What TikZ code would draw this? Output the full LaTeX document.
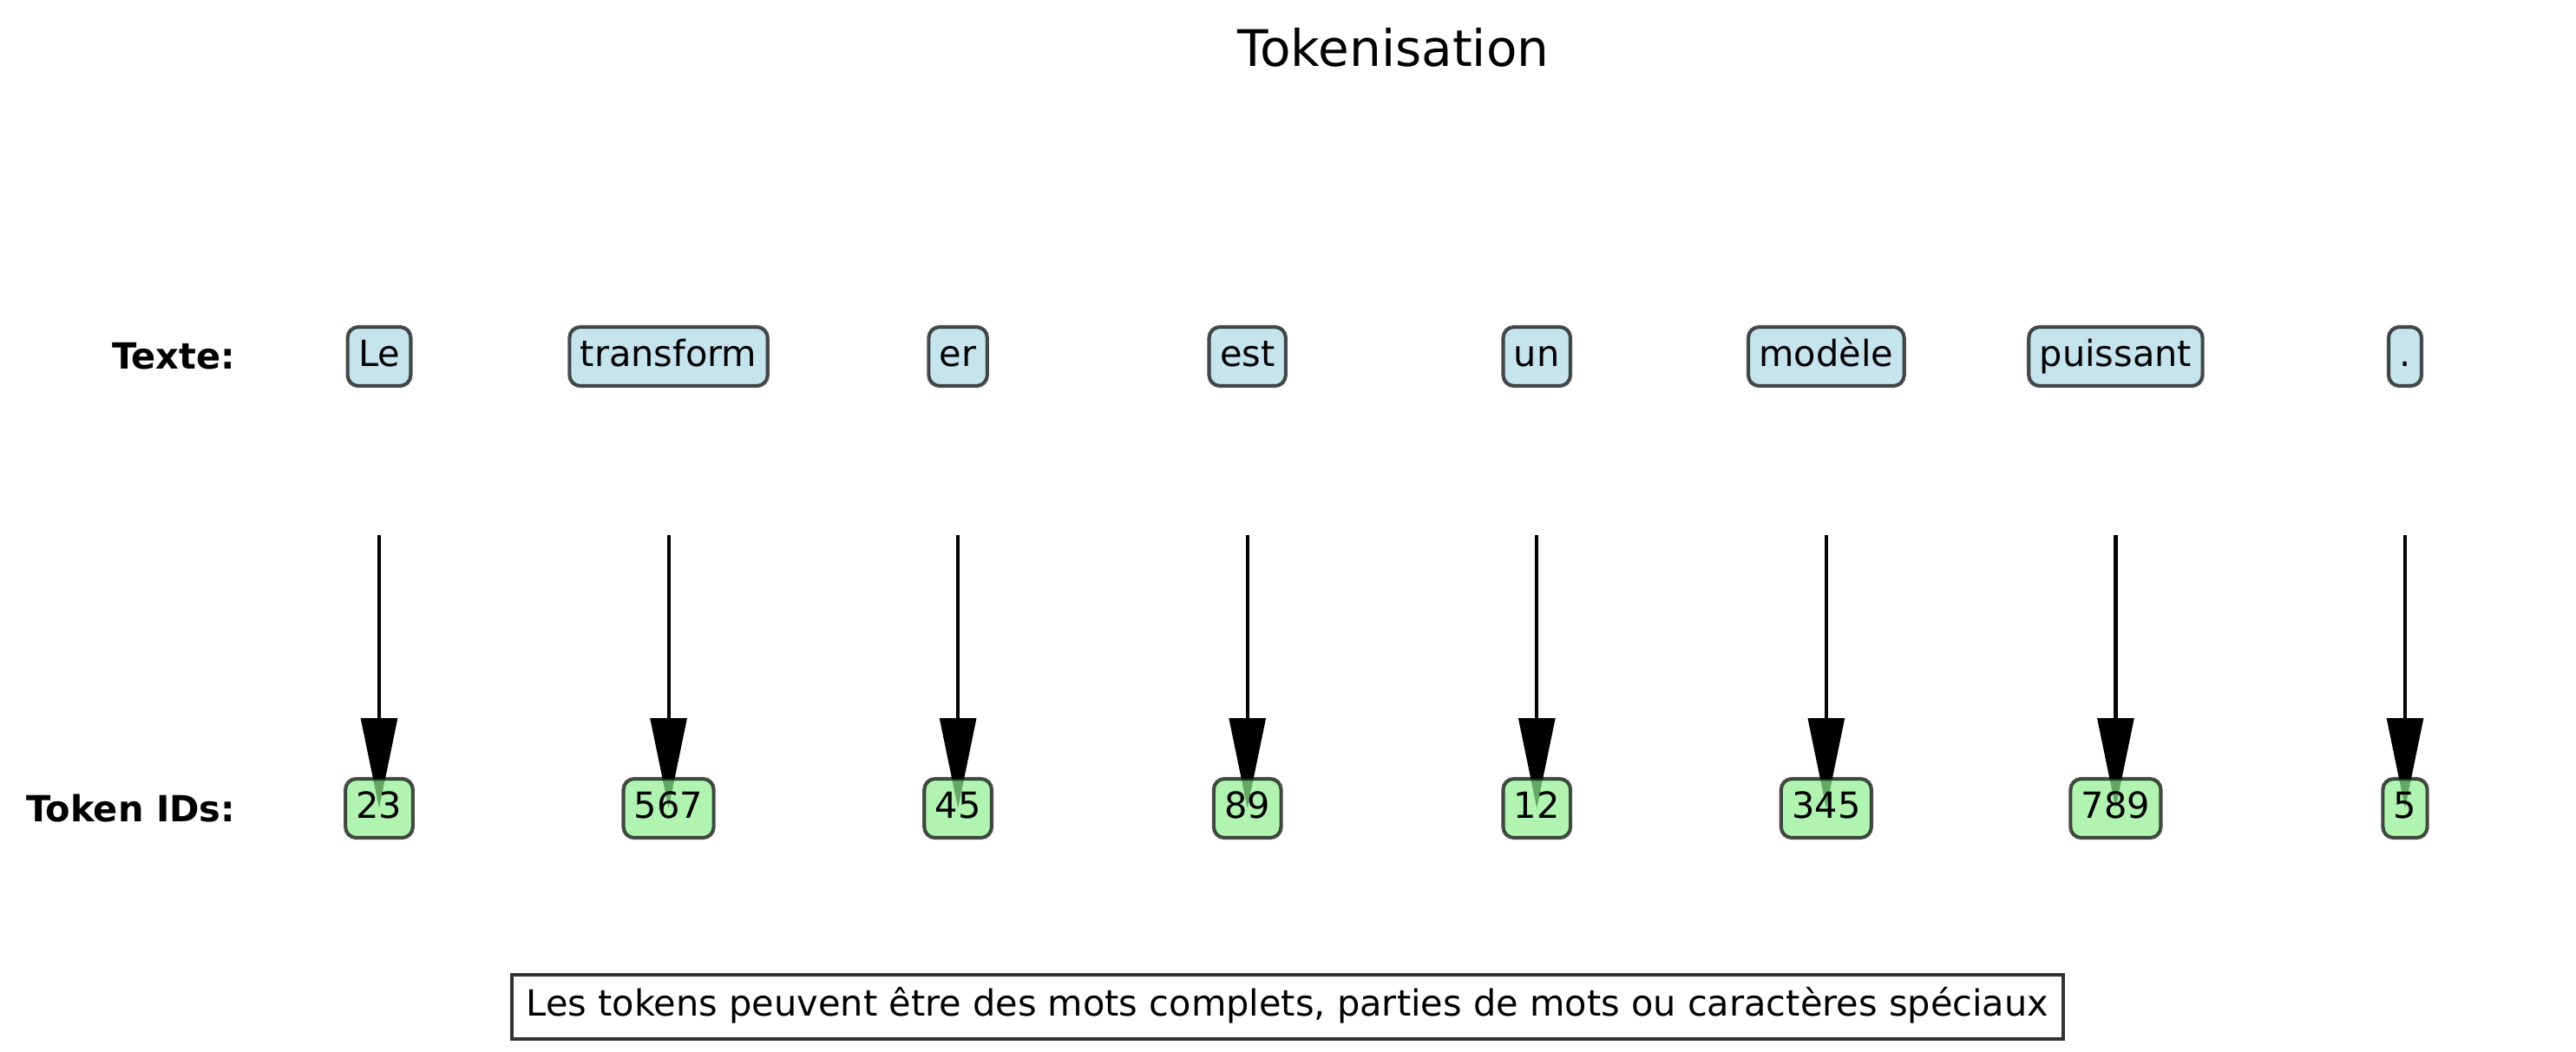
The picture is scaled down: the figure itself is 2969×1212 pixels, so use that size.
\documentclass[tikz,border=0pt]{standalone}
\usepackage{fontspec}
\setmainfont{DejaVu Sans}
\usetikzlibrary{arrows.meta,backgrounds}
\definecolor{lightblue}{HTML}{ADD8E6}
\definecolor{lightgreen}{HTML}{90EE90}
\begin{document}
\begin{tikzpicture}[
        x=0.0846667mm, y=-0.0846667mm, % one unit = one pixel at 300 dpi
        every node/.style={font=\fontsize{10}{12}\selectfont},
        tokbox/.style={draw=black, draw opacity=0.7, line width=1pt, rounded corners=3pt, fill opacity=0.7, text opacity=1, inner xsep=3pt, inner ysep=3pt, text height=8pt, text depth=2.4pt},
        wordbox/.style={tokbox, fill=lightblue},
        idbox/.style={tokbox, fill=lightgreen},
        rowlabel/.style={anchor=east, font=\fontsize{10}{12}\selectfont\bfseries},
        maparrow/.style={line width=1pt, -{Triangle[length=25pt, width=10pt]}}
    ]
    \useasboundingbox (0,0) rectangle (2969,1212);
    % Title
    \node[font=\fontsize{14}{17}\selectfont] (title) at (1606,55) {Tokenisation};
    % Row labels
    \node[rowlabel] (textlabel) at (286,411) {Texte:};
    \node[rowlabel] (idlabel) at (286,932) {Token IDs:};
    % Tokens and their IDs
    \foreach \w/\n [count=\i from 0] in {Le/23, transform/567, er/45, est/89, un/12, modèle/345, puissant/789, ./5} {
        \node[wordbox] (w\i) at (437+333.57*\i, 411) {\w};
        \node[idbox] (t\i) at (437+333.57*\i, 932) {\n};
        \coordinate (s\i) at (437+333.57*\i, 617);
        \begin{scope}[on background layer]
            \draw[maparrow] (s\i) -- (t\i.center);
        \end{scope}
    }
    % Note
    \node[draw=black!80, line width=1pt, inner sep=4pt, text height=7.6pt, text depth=2.4pt] (note) at (1484,1161) {Les tokens peuvent être des mots complets, parties de mots ou caractères spéciaux};
\end{tikzpicture}
\end{document}
